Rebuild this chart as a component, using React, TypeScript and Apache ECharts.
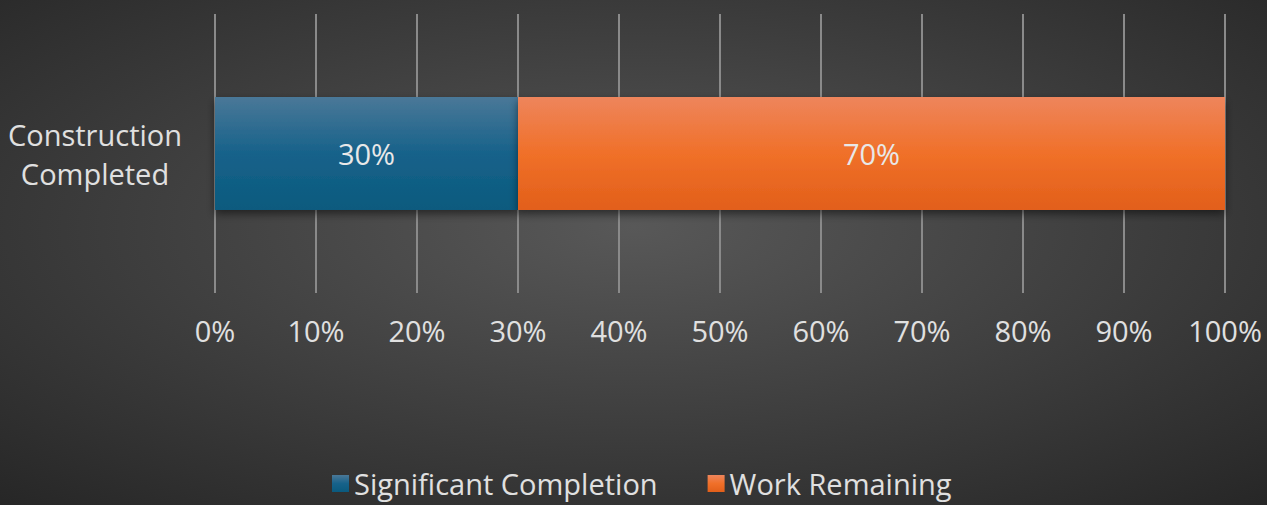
import React, { useEffect, useRef } from "react";
import * as echarts from "echarts";

const categories = ["Construction\nCompleted"];
const significantCompletion = [30];
const workRemaining = [70];
const seriesNames = ["Significant Completion", "Work Remaining"];

export default function App() {
  const ref = useRef<HTMLDivElement>(null);
  useEffect(() => {
    const chart = echarts.init(ref.current!, null, { renderer: "svg" });
    const font = "Open Sans";
    const label = {
      show: true,
      position: "inside",
      formatter: "{c}%",
      color: "#e8e8e8",
      fontSize: 29,
      fontFamily: font,
    };
    chart.setOption({
      animation: false,
      backgroundColor: new echarts.graphic.RadialGradient(0.5, 0.45, 0.75, [
        { offset: 0, color: "#585858" },
        { offset: 1, color: "#262626" },
      ]),
      grid: { left: 215, right: 42, top: 14, bottom: 212 },
      legend: {
        top: 464,
        left: 327,
        itemWidth: 17,
        itemHeight: 17,
        itemGap: 50,
        icon: "rect",
        textStyle: { color: "#e0e0e0", fontSize: 29, fontFamily: font, padding: [0, 0, 0, 0] },
        data: seriesNames,
      },
      xAxis: {
        type: "value",
        min: 0,
        max: 100,
        interval: 10,
        axisLine: { show: false },
        axisTick: { show: false },
        splitLine: { lineStyle: { color: "#8a8a8a", width: 2 } },
        axisLabel: { formatter: "{value}%", color: "#e0e0e0", fontSize: 29, fontFamily: font, margin: 23 },
      },
      yAxis: {
        type: "category",
        data: categories,
        axisLine: { show: false },
        axisTick: { show: false },
        axisLabel: { color: "#e0e0e0", fontSize: 29, fontFamily: font, lineHeight: 39, margin: 120, align: "center" },
      },
      series: [
        {
          name: seriesNames[0],
          type: "bar",
          stack: "total",
          barWidth: 113,
          data: significantCompletion,
          label,
          itemStyle: {
            color: new echarts.graphic.LinearGradient(0, 0, 0, 1, [
              { offset: 0, color: "#4a7898" },
              { offset: 0.5, color: "#17628a" },
              { offset: 1, color: "#0a5a7e" },
            ]),
            shadowColor: "rgba(0,0,0,0.5)",
            shadowBlur: 8,
            shadowOffsetY: 4,
          },
        },
        {
          name: seriesNames[1],
          type: "bar",
          stack: "total",
          barWidth: 113,
          data: workRemaining,
          label,
          itemStyle: {
            color: new echarts.graphic.LinearGradient(0, 0, 0, 1, [
              { offset: 0, color: "#ee855c" },
              { offset: 0.5, color: "#f07029" },
              { offset: 1, color: "#e25f1a" },
            ]),
            shadowColor: "rgba(0,0,0,0.5)",
            shadowBlur: 8,
            shadowOffsetY: 4,
          },
        },
      ],
    });
    return () => chart.dispose();
  }, []);
  return <div ref={ref} style={{ width: 1267, height: 505, position: "absolute", left: 0, top: 0 }} />;
}
